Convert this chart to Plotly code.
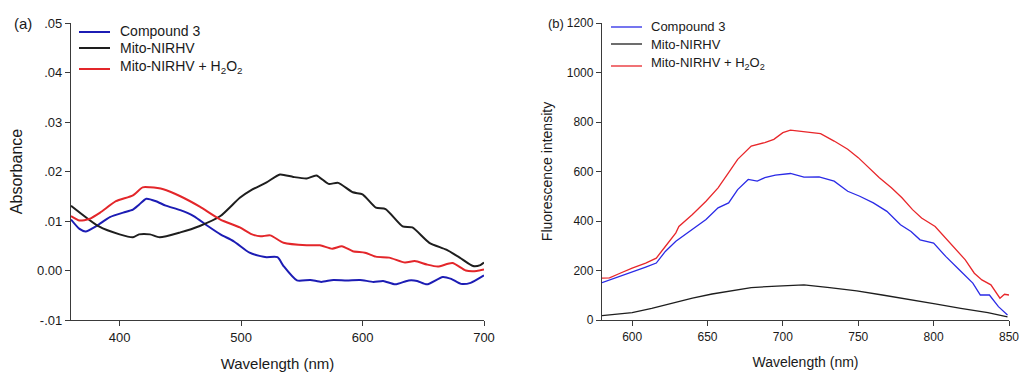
import plotly.graph_objects as go

# ---------------- Panel (a): absorbance ----------------
a_cmp3_x = [360, 367, 372, 381, 392, 403, 411, 416, 422, 430, 438, 450, 461, 472, 483, 494, 507,
            516, 521, 530, 535, 546, 557, 566, 576, 587, 598, 609, 617, 627, 638, 645, 653, 666,
            673, 681, 689, 700]
a_cmp3_y = [0.0103, 0.0084, 0.0079, 0.0090, 0.0108, 0.0117, 0.0123, 0.0133, 0.0145, 0.0140, 0.0131,
            0.0122, 0.0110, 0.0091, 0.0073, 0.0059, 0.0036, 0.0029, 0.0027, 0.0027, 0.0009,
            -0.0020, -0.0019, -0.0023, -0.0019, -0.0020, -0.0019, -0.0023, -0.0021, -0.0028,
            -0.0020, -0.0021, -0.0028, -0.0013, -0.0017, -0.0027, -0.0025, -0.0010]

a_mito_x = [360, 383, 400, 411, 416, 425, 433, 450, 466, 483, 499, 508, 521, 532, 543, 554, 562,
            572, 580, 592, 600, 611, 619, 633, 641, 655, 669, 680, 691, 697, 700]
a_mito_y = [0.0131, 0.0089, 0.0073, 0.0067, 0.0073, 0.0073, 0.0067, 0.0077, 0.0090, 0.0110, 0.0147,
            0.0162, 0.0178, 0.0194, 0.0189, 0.0186, 0.0192, 0.0175, 0.0177, 0.0158, 0.0154,
            0.0127, 0.0124, 0.0089, 0.0087, 0.0056, 0.0042, 0.0026, 0.0009, 0.0011, 0.0016]

a_h2o2_x = [360, 367, 375, 384, 397, 411, 419, 425, 436, 450, 466, 483, 499, 508, 516, 524, 535,
            554, 565, 575, 583, 592, 602, 611, 622, 635, 643, 653, 662, 674, 685, 694, 700]
a_h2o2_y = [0.0110, 0.0101, 0.0104, 0.0117, 0.0140, 0.0152, 0.0168, 0.0168, 0.0164, 0.0150, 0.0129,
            0.0103, 0.0087, 0.0074, 0.0069, 0.0071, 0.0056, 0.0051, 0.0051, 0.0044, 0.0049,
            0.0039, 0.0036, 0.0028, 0.0026, 0.0016, 0.0019, 0.0012, 0.0008, 0.0015, 0.0000,
            -0.0001, 0.0002]

a_ytick_vals = [-0.01, 0.0, 0.01, 0.02, 0.03, 0.04, 0.05]
a_ytick_text = ['-.01', '0.00', '.01', '.02', '.03', '.04', '.05']
a_xtick_vals = [400, 500, 600, 700]

# ---------------- Panel (b): fluorescence ----------------
b_cmp3_x = [580, 592, 600, 609, 616, 622, 629, 640, 649, 657, 664, 670, 677, 683, 688, 695, 705,
            714, 724, 734, 743, 751, 760, 769, 778, 785, 791, 800, 808, 817, 826, 831, 837, 843, 849]
b_cmp3_y = [151, 176, 193, 214, 230, 277, 318, 365, 406, 453, 473, 527, 568, 561, 575, 585, 592,
            577, 578, 561, 520, 500, 473, 439, 385, 358, 324, 311, 257, 203, 149, 101, 101, 54, 20]

b_mito_x = [580, 600, 613, 626, 640, 653, 666, 679, 696, 714, 731, 749, 766, 784, 801, 818, 836, 849]
b_mito_y = [18, 30, 47, 68, 88, 105, 119, 131, 137, 142, 131, 118, 101, 84, 65, 47, 30, 13]

b_h2o2_x = [580, 585, 592, 600, 609, 616, 622, 629, 631, 640, 649, 657, 664, 670, 679, 688, 694,
            700, 705, 714, 725, 734, 743, 750, 757, 764, 772, 779, 786, 792, 801, 808, 814, 821,
            827, 832, 838, 844, 847, 850]
b_h2o2_y = [169, 170, 189, 210, 230, 250, 297, 352, 378, 426, 480, 534, 595, 649, 703, 717, 730,
            757, 767, 761, 753, 723, 690, 656, 615, 575, 534, 494, 446, 412, 378, 331, 291, 243,
            189, 162, 142, 88, 104, 101]

b_ytick_vals = [0, 200, 400, 600, 800, 1000, 1200]
b_xtick_vals = [600, 650, 700, 750, 800, 850]

names = ['Compound 3', 'Mito-NIRHV', 'Mito-NIRHV + H<sub>2</sub>O<sub>2</sub>']
colors_a = ['#1c1cb4', '#1e1e1e', '#e3262a']
colors_b = ['#2a2ae6', '#1e1e1e', '#e8262a']

FONT = 'Liberation Sans, Arial, sans-serif'
AXC = '#3a3a3a'
W, H = 1022, 376

fig = go.Figure()
for xs, ys, nm, c in zip([a_cmp3_x, a_mito_x, a_h2o2_x], [a_cmp3_y, a_mito_y, a_h2o2_y], names, colors_a):
    fig.add_trace(go.Scatter(x=xs, y=ys, mode='lines', name=nm, showlegend=False,
                             line=dict(color=c, width=2, shape='spline', smoothing=0.6),
                             xaxis='x', yaxis='y'))
for xs, ys, nm, c in zip([b_cmp3_x, b_mito_x, b_h2o2_x], [b_cmp3_y, b_mito_y, b_h2o2_y], names, colors_b):
    fig.add_trace(go.Scatter(x=xs, y=ys, mode='lines', name=nm, showlegend=False,
                             line=dict(color=c, width=1.3), xaxis='x2', yaxis='y2'))

# compact legends (key line + label), positioned in paper coordinates
def px(x):
    return x / W

def py(y):
    return 1 - y / H

shapes, annotations = [], []
legend_specs = [
    # (line x0, line x1, text x, line ys, text ys, colors, font size, line width)
    (79, 110, 118, [32, 48, 69], [31, 48, 67], colors_a, 14, 2),
    (611, 642, 649, [27, 44, 66], [26, 44, 63], colors_b, 13, 1.3),
]
for lx0, lx1, tx, lys, tys, cols, fs, lw in legend_specs:
    for nm, c, ly, ty in zip(names, cols, lys, tys):
        shapes.append(dict(type='line', xref='paper', yref='paper', x0=px(lx0), x1=px(lx1),
                           y0=py(ly), y1=py(ly), line=dict(color=c, width=lw)))
        annotations.append(dict(text=nm, x=px(tx), y=py(ty), xref='paper', yref='paper',
                                xanchor='left', yanchor='middle', showarrow=False,
                                font=dict(size=fs)))

annotations += [
    dict(text='(a)', x=px(12), y=py(24), xref='paper', yref='paper', xanchor='left', yanchor='middle',
         showarrow=False, font=dict(size=15)),
    dict(text='(b)', x=px(546), y=py(24), xref='paper', yref='paper', xanchor='left', yanchor='middle',
         showarrow=False, font=dict(size=13)),
]

ydom = [(H - 320) / H, (H - 23) / H]
axcommon = dict(showline=True, linecolor=AXC, linewidth=1.3, ticks='outside', ticklen=5, tickwidth=1.3,
                tickcolor=AXC, showgrid=False, zeroline=False, mirror=False, automargin=False,
                ticklabeloverflow='allow')

fig.update_layout(
    width=W, height=H, margin=dict(l=0, r=0, t=0, b=0, autoexpand=False),
    paper_bgcolor='white', plot_bgcolor='white',
    font=dict(family=FONT, color='#1a1a1a'),
    xaxis=dict(domain=[71 / W, 484 / W], range=[360, 700], tickvals=a_xtick_vals,
               tickfont=dict(size=13), anchor='y',
               title=dict(text='Wavelength (nm)', font=dict(size=15), standoff=14), **axcommon),
    yaxis=dict(domain=ydom, range=[-0.01, 0.05], tickvals=a_ytick_vals, ticktext=a_ytick_text,
               tickfont=dict(size=13), anchor='x',
               title=dict(text='Absorbance', font=dict(size=16), standoff=10), **axcommon),
    xaxis2=dict(domain=[602 / W, 1009 / W], range=[580, 850], tickvals=b_xtick_vals,
                tickfont=dict(size=12), anchor='y2',
                title=dict(text='Wavelength (nm)', font=dict(size=14), standoff=14), **axcommon),
    yaxis2=dict(domain=ydom, range=[0, 1200], tickvals=b_ytick_vals,
                tickfont=dict(size=12), anchor='x2',
                title=dict(text='Fluorescence intensity', font=dict(size=14), standoff=10), **axcommon),
    showlegend=False,
    shapes=shapes,
    annotations=annotations,
)

fig.write_html('out.html')
